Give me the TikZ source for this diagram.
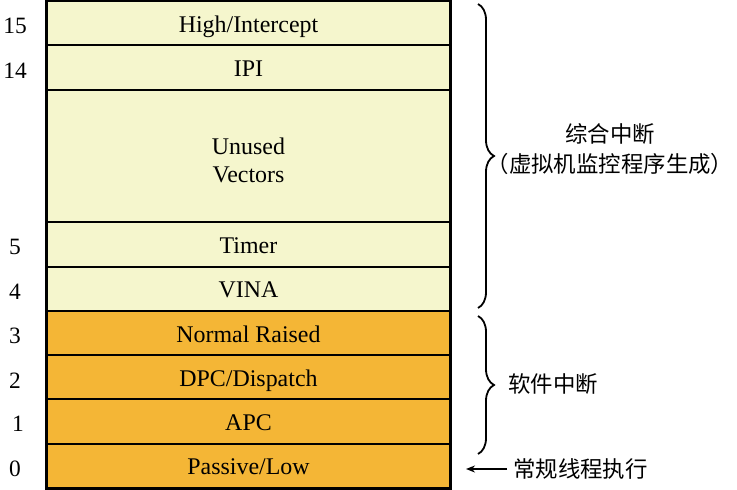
\documentclass[tikz,border=0pt]{standalone}
\usepackage{fontspec}
\setmainfont{Liberation Serif}
\newfontfamily\cjk{Noto Sans CJK SC}
\usetikzlibrary{decorations.pathreplacing,arrows.meta}
\definecolor{lightyel}{RGB}{245,246,205}
\definecolor{orangefill}{RGB}{244,182,54}
\begin{document}
\begin{tikzpicture}[x=1bp,y=-1bp,
  lvl/.style={draw=black, line width=2bp, outer sep=0pt, inner sep=0pt,
    minimum width=403bp, align=center, text height=20bp, text depth=2bp,
    font=\fontsize{24}{29}\selectfont},
  synth/.style={lvl, fill=lightyel},
  soft/.style={lvl, fill=orangefill},
  num/.style={font=\fontsize{23.5}{24}\selectfont, inner sep=0pt},
  cjklabel/.style={font=\cjk\fontsize{22.5}{30}\selectfont, align=center, inner sep=0pt},
  bracepath/.style={decorate, decoration={brace, amplitude=16bp}, line width=1.8bp},
]
\useasboundingbox (0,0) rectangle (737,490);
\def\u{44.27}
\node[synth, minimum height=\u bp] (r15) at (248.5,23.1) {High/Intercept};
\node[synth, minimum height=\u bp] (r14) at (248.5,67.4) {IPI};
\node[synth, minimum height=132.8bp, text height=56bp] (ru) at (248.5,156) {Unused\\Vectors};
\node[synth, minimum height=\u bp] (r5) at (248.5,244.5) {Timer};
\node[synth, minimum height=\u bp] (r4) at (248.5,288.8) {VINA};
\node[soft, minimum height=\u bp] (r3) at (248.5,333.1) {Normal Raised};
\node[soft, minimum height=\u bp] (r2) at (248.5,377.3) {DPC/Dispatch};
\node[soft, minimum height=\u bp] (r1) at (248.5,421.6) {APC};
\node[soft, minimum height=\u bp] (r0) at (248.5,465.9) {Passive/Low};
\draw[line width=3bp] (r15.north west) rectangle (r0.south east);

\node[num] (n15) at (15,26) {15};
\node[num] (n14) at (15,71) {14};
\node[num] (n5) at (15,247) {5};
\node[num] (n4) at (15,292) {4};
\node[num] (n3) at (15,336) {3};
\node[num] (n2) at (15,381) {2};
\node[num] (n1) at (18,424) {1};
\node[num] (n0) at (15,469) {0};

\coordinate (b1top) at (478,4);
\coordinate (b1bot) at (478,308);
\coordinate (b2top) at (478,316);
\coordinate (b2bot) at (478,454);
\draw[bracepath] (b1top) -- (b1bot);
\draw[bracepath] (b2top) -- (b2bot);

\node[cjklabel] (synthlbl) at (610,149) {综合中断\\（虚拟机监控程序生成）};
\node[cjklabel] (softlbl) at (553,384) {软件中断};
\node[cjklabel, anchor=west] (normlbl) at (513,469) {常规线程执行};
\coordinate (arrtip) at (466,469);
\draw[-{Stealth[length=9bp,width=7bp]}, line width=1.8bp] (normlbl.west) ++(-6,0) -- (arrtip);
\end{tikzpicture}
\end{document}
